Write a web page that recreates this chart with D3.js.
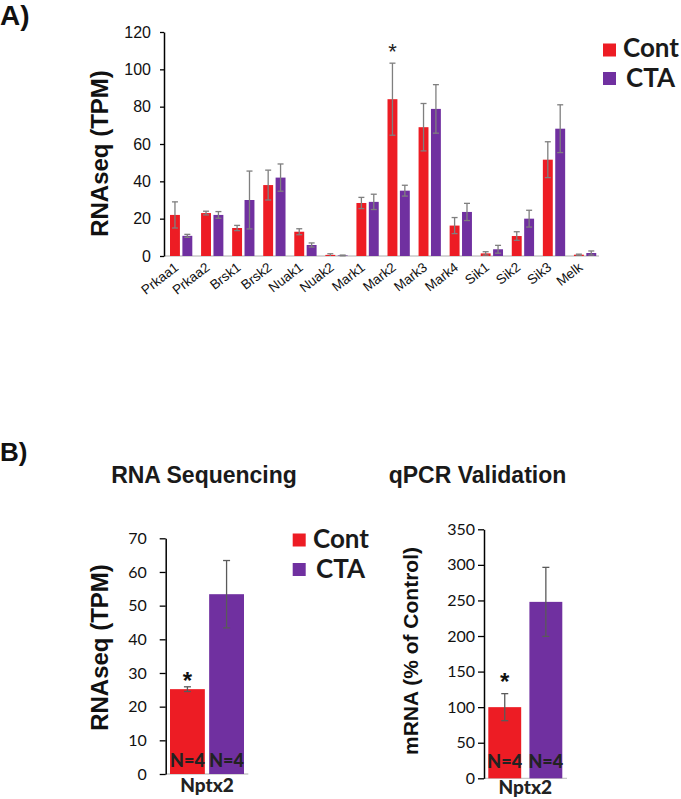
<!DOCTYPE html>
<html><head><meta charset="utf-8">
<script src="https://cdn.jsdelivr.net/npm/d3@7"></script>
<style>
body{margin:0;background:#fff;}
svg{display:block;}
</style></head>
<body>
<svg id="c" width="681" height="799"></svg>
<script>
// ---------- data ----------
const genes = ["Prkaa1","Prkaa2","Brsk1","Brsk2","Nuak1","Nuak2","Mark1","Mark2","Mark3","Mark4","Sik1","Sik2","Sik3","Melk"];
const seriesNames = ["Cont","CTA"];
const contValues = [22,23,15,38,13,0.6,28.4,84,69,16.3,1.4,10.7,51.6,0.7];
const contErrors = [7,1,1.4,8,1.6,0.6,3,19.3,12.7,4.3,0.9,2.3,9.6,0.3];
const ctaValues  = [10.8,22,30,42,5.9,0.3,29,35,78.8,23.6,3.6,20,68.2,1.6];
const ctaErrors  = [0.8,1.8,15.5,7.3,1.1,0.2,4.1,2.9,13,4.6,2.1,4.5,12.8,1.1];
const sigGenesA = ["Mark2"];
const yTicksA = [0,20,40,60,80,100,120];

const nptxCategory = "Nptx2";
const seqValues = [25.2,53.4];
const seqErrors = [0.7,10];
const seqTicks = [0,10,20,30,40,50,60,70];
const qpcrValues = [100,248];
const qpcrErrors = [19,48.5];
const qpcrTicks = [0,50,100,150,200,250,300,350];
const nLabels = ["N=4","N=4"];

const colors = {"Cont":"#ED1C24","CTA":"#7030A0"};

// ---------- drawing ----------
const svg = d3.select("#c");
const ARIAL = "Liberation Sans, Arial, sans-serif";
const CAL = "Lato, Carlito, Calibri, sans-serif";

function styleAxis(g, fontFamily, fontSize){
  g.select(".domain").attr("stroke","#000").attr("stroke-width",1.5);
  g.selectAll(".tick line").attr("stroke","#000").attr("stroke-width",1.3);
  g.selectAll(".tick text").attr("fill","#111").style("font-family",fontFamily).style("font-size",fontSize+"px");
}
function errBar(g, cx, y, v, e, cap, color, w){
  g.append("line").attr("x1",cx).attr("x2",cx).attr("y1",y(v+e)).attr("y2",y(Math.max(0,v-e)))
    .attr("stroke",color).attr("stroke-width",w);
  g.append("line").attr("x1",cx-cap/2).attr("x2",cx+cap/2).attr("y1",y(v+e)).attr("y2",y(v+e))
    .attr("stroke",color).attr("stroke-width",w);
  if (v-e>0) g.append("line").attr("x1",cx-cap/2).attr("x2",cx+cap/2).attr("y1",y(v-e)).attr("y2",y(v-e))
    .attr("stroke",color).attr("stroke-width",w);
}

// ===== Panel A =====
svg.append("text").attr("x",0).attr("y",25).text("A)")
  .style("font-family",ARIAL).style("font-weight","bold").style("font-size","28px").attr("fill","#111");

const yA = d3.scaleLinear().domain([0,120]).range([256,32]);
const xA = d3.scaleBand().domain(genes).range([164,599]).padding(0);
const xsA = d3.scaleBand().domain(seriesNames).range([6,28.3]).paddingInner(0.2);

const gA = svg.append("g");
gA.append("line").attr("x1",164).attr("x2",599).attr("y1",yA(0)).attr("y2",yA(0)).attr("stroke","#c8c8c8").attr("stroke-width",1.3);

const seriesA = [
  {name:"Cont", vals:contValues, errs:contErrors},
  {name:"CTA", vals:ctaValues, errs:ctaErrors}
];
seriesA.forEach(s=>{
  gA.selectAll(null).data(genes).enter().append("rect")
    .attr("x",d=>xA(d)+xsA(s.name)).attr("width",xsA.bandwidth())
    .attr("y",(d,i)=>yA(s.vals[i])).attr("height",(d,i)=>yA(0)-yA(s.vals[i]))
    .attr("fill",colors[s.name]);
});
seriesA.forEach(s=>{
  genes.forEach((d,i)=>{
    errBar(gA, xA(d)+xsA(s.name)+xsA.bandwidth()/2, yA, s.vals[i], s.errs[i], 6, "#7f7f7f", 1.3);
  });
});
sigGenesA.forEach(gn=>{
  const i = genes.indexOf(gn);
  gA.append("text").attr("x",xA(gn)+xsA("Cont")+xsA.bandwidth()/2).attr("y",yA(contValues[i]+contErrors[i])-4)
    .attr("text-anchor","middle").text("*").style("font-family",ARIAL).style("font-size","22px").attr("fill","#222");
});

const axA = gA.append("g").attr("transform","translate(164,0)")
  .call(d3.axisLeft(yA).tickValues(yTicksA).tickSize(4).tickSizeOuter(0).tickPadding(9));
styleAxis(axA, ARIAL, 16);

gA.selectAll(null).data(genes).enter().append("text")
  .attr("transform",d=>`translate(${xA(d)+xA.bandwidth()/2},${269}) rotate(-38)`)
  .attr("text-anchor","end").text(d=>d)
  .style("font-family",ARIAL).style("font-size","13.5px").attr("fill","#111");

svg.append("text").attr("transform","translate(108,153.5) rotate(-90)").attr("text-anchor","middle")
  .text("RNAseq (TPM)").style("font-family",ARIAL).style("font-weight","bold").style("font-size","24px").attr("fill","#111");

function legend(x, y1, y2, tx1, tx2, b1, b2){
  const lg = svg.append("g");
  lg.append("rect").attr("x",x).attr("y",y1).attr("width",13).attr("height",13).attr("fill",colors["Cont"]);
  lg.append("rect").attr("x",x).attr("y",y2).attr("width",13).attr("height",13).attr("fill",colors["CTA"]);
  lg.append("text").attr("x",tx1).attr("y",b1).text(seriesNames[0])
    .style("font-family",CAL).style("font-weight","bold").style("font-size","26px").attr("fill","#1a1a1a");
  lg.append("text").attr("x",tx2).attr("y",b2).text(seriesNames[1])
    .style("font-family",CAL).style("font-weight","bold").style("font-size","26px").attr("fill","#1a1a1a");
}
legend(603,43.5,72,623,626,56.5,87);

// ===== Panel B =====
svg.append("text").attr("x",0).attr("y",461).text("B)")
  .style("font-family",ARIAL).style("font-weight","bold").style("font-size","26px").attr("fill","#111");

function smallPanel(opts){
  const y = d3.scaleLinear().domain([0,opts.max]).range([opts.y0,opts.yTop]);
  const x = d3.scaleBand().domain(seriesNames).range([opts.b0,opts.b1]).paddingInner(opts.pad);
  const g = svg.append("g");
  g.append("line").attr("x1",opts.ax).attr("x2",opts.xEnd).attr("y1",y(0)).attr("y2",y(0)).attr("stroke","#c8c8c8").attr("stroke-width",1.3);
  g.selectAll(null).data(seriesNames).enter().append("rect")
    .attr("x",d=>x(d)).attr("width",x.bandwidth())
    .attr("y",(d,i)=>y(opts.vals[i])).attr("height",(d,i)=>y(0)-y(opts.vals[i]))
    .attr("fill",d=>colors[d]);
  seriesNames.forEach((d,i)=>errBar(g, x(d)+x.bandwidth()/2, y, opts.vals[i], opts.errs[i], 7, "#5a5a5a", 1.3));
  g.append("text").attr("x",x("Cont")+x.bandwidth()/2).attr("y",y(opts.vals[0]+opts.errs[0])-4+opts.astOff)
    .attr("text-anchor","middle").text("*").style("font-family",ARIAL).style("font-weight","bold").style("font-size","24px").attr("fill","#111");
  g.selectAll(null).data(seriesNames).enter().append("text")
    .attr("x",d=>x(d)+x.bandwidth()/2).attr("y",opts.nBase).attr("text-anchor","middle").text((d,i)=>nLabels[i])
    .style("font-family",CAL).style("font-weight","900").style("font-size","18px").attr("fill","#222");
  g.append("text").attr("x",(opts.b0+opts.b1)/2).attr("y",opts.catBase).attr("text-anchor","middle").text(nptxCategory)
    .style("font-family",CAL).style("font-weight","900").style("font-size","19px").attr("fill","#222");
  const ax = g.append("g").attr("transform",`translate(${opts.ax},0)`)
    .call(d3.axisLeft(y).tickValues(opts.ticks).tickSize(6).tickSizeOuter(0).tickPadding(opts.tp));
  styleAxis(ax, CAL, 16);
  svg.append("text").attr("transform",`translate(${opts.lx},${opts.ly}) rotate(-90)`).attr("text-anchor","middle")
    .text(opts.label).style("font-family",ARIAL).style("font-weight","bold").style("font-size",opts.lsize+"px").attr("fill","#111");
  svg.append("text").attr("x",opts.tx).attr("y",482.5).attr("text-anchor","middle").text(opts.title)
    .style("font-family",ARIAL).style("font-weight","bold").style("font-size","23px").attr("fill","#1a1a1a");
}

smallPanel({max:70, y0:774, yTop:538.3, b0:170, b1:244, pad:0.11, ax:165.7, xEnd:248.3,
  vals:seqValues, errs:seqErrors, ticks:seqTicks, tp:13, nBase:767, catBase:792, astOff:6,
  lx:108, ly:647.5, label:"RNAseq (TPM)", lsize:24, tx:204, title:"RNA Sequencing"});

smallPanel({max:350, y0:778.3, yTop:529.3, b0:488.3, b1:562.3, pad:0.2, ax:484, xEnd:567,
  vals:qpcrValues, errs:qpcrErrors, ticks:qpcrTicks, tp:3, nBase:767.5, catBase:794, astOff:0,
  lx:418, ly:651, label:"mRNA (% of Control)", lsize:21, tx:477.5, title:"qPCR Validation"});

legend(292.7,533.5,563,313,316,547.5,578);
</script>
</body></html>
